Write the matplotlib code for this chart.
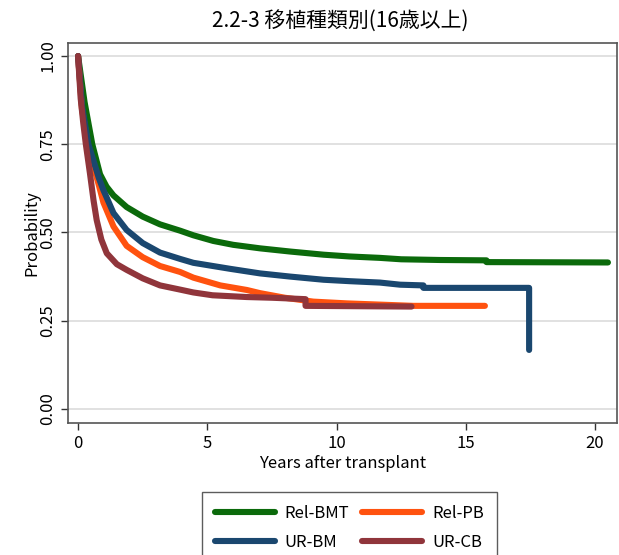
import matplotlib
matplotlib.use('Agg')
import matplotlib.pyplot as plt

plt.rcParams['font.family'] = ['Noto Sans CJK JP', 'DejaVu Sans']

# Kaplan-Meier curves (years, probability)
relbmt_t = [0, 0.25, 0.55, 0.85, 1.1, 1.37, 1.88, 2.5, 3.17, 3.95, 4.46, 5.23, 6.0, 7.04, 8.2,
            9.5, 10.5, 11.68, 12.5, 14.0, 15.8, 15.8, 20.5]
relbmt_p = [1.0, 0.87, 0.75, 0.665, 0.63, 0.605, 0.572, 0.545, 0.523, 0.505, 0.492, 0.476, 0.465,
            0.455, 0.446, 0.437, 0.432, 0.428, 0.424, 0.422, 0.421, 0.416, 0.415]

urbm_t = [0, 0.15, 0.4, 0.59, 0.8, 0.98, 1.37, 1.88, 2.5, 3.17, 3.95, 4.46, 5.88, 7.04, 8.2,
          9.5, 10.5, 11.68, 12.46, 13.36, 13.36, 17.45, 17.45]
urbm_p = [1.0, 0.86, 0.75, 0.705, 0.655, 0.62, 0.555, 0.507, 0.47, 0.443, 0.425, 0.414, 0.397,
          0.384, 0.375, 0.366, 0.362, 0.358, 0.352, 0.35, 0.343, 0.343, 0.167]

relpb_t = [0, 0.15, 0.4, 0.59, 0.8, 0.98, 1.37, 1.88, 2.5, 3.17, 3.95, 4.46, 5.5, 6.53, 7.04,
           8.0, 9.1, 10.4, 12.97, 15.74]
relpb_p = [1.0, 0.85, 0.74, 0.69, 0.635, 0.585, 0.517, 0.462, 0.43, 0.405, 0.388, 0.372, 0.35,
           0.337, 0.328, 0.315, 0.304, 0.299, 0.292, 0.292]

urcb_t = [0, 0.1, 0.2, 0.3, 0.46, 0.6, 0.72, 0.9, 1.11, 1.5, 1.88, 2.5, 3.17, 3.95, 4.46, 5.2,
          6.53, 7.5, 8.8, 8.8, 12.9]
urcb_p = [1.0, 0.88, 0.81, 0.75, 0.667, 0.59, 0.535, 0.48, 0.441, 0.41, 0.394, 0.37, 0.35, 0.338,
          0.33, 0.322, 0.317, 0.315, 0.311, 0.292, 0.29]

x_ticks = [0, 5, 10, 15, 20]
y_ticks = [0.0, 0.25, 0.5, 0.75, 1.0]

fig = plt.figure(figsize=(6.19, 5.55), dpi=100)
ax = fig.add_axes([68 / 619, 1 - 423 / 555, (617 - 68) / 619, (423 - 43) / 555])

for y in y_ticks:
    ax.axhline(y, color='#dcdcdc', linewidth=1.2, zorder=0)

lw = 4.4
l1, = ax.plot(relbmt_t, relbmt_p, color='#0b6a0b', linewidth=lw, solid_capstyle='round',
              solid_joinstyle='round', label='Rel-BMT', zorder=3)
l2, = ax.plot(relpb_t, relpb_p, color='#ff520f', linewidth=lw, solid_capstyle='round',
              solid_joinstyle='round', label='Rel-PB', zorder=3)
l3, = ax.plot(urbm_t, urbm_p, color='#1a476f', linewidth=lw, solid_capstyle='round',
              solid_joinstyle='round', label='UR-BM', zorder=4)
l4, = ax.plot(urcb_t, urcb_p, color='#90353b', linewidth=lw, solid_capstyle='round',
              solid_joinstyle='round', label='UR-CB', zorder=5)

ax.set_xlim(-0.39, 20.85)
ax.set_ylim(-0.040, 1.037)
ax.set_xticks(x_ticks)
ax.set_xticklabels([str(v) for v in x_ticks], fontsize=12)
ax.set_yticks(y_ticks)
ax.set_yticklabels([f'{v:.2f}' for v in y_ticks], fontsize=12, rotation=90, va='center')
ax.tick_params(direction='out', length=5, width=1, color='#333333')

for s in ax.spines.values():
    s.set_color('#555555')
    s.set_linewidth(1.2)

ax.set_xlabel('Years after transplant', fontsize=12, labelpad=2)
ax.set_ylabel('Probability', fontsize=12, labelpad=-1)
fig.text(340 / 619, 1 - 22 / 555, '2.2-3 移植種類別(16歳以上)', fontsize=15,
         ha='center', va='center')

# column-first fill: row 1 Rel-BMT / Rel-PB, row 2 UR-BM / UR-CB
leg = fig.legend(handles=[l1, l3, l2, l4], labels=['Rel-BMT', 'UR-BM', 'Rel-PB', 'UR-CB'],
                 ncol=2, loc='upper left', bbox_to_anchor=(202 / 619, 1 - 492 / 555),
                 borderaxespad=0, fontsize=12, frameon=True, fancybox=False,
                 edgecolor='#333333', handlelength=3.6, columnspacing=0.8,
                 handletextpad=0.6, borderpad=0.75, labelspacing=0.75)
leg.get_frame().set_linewidth(1.0)

fig.savefig('out.png', dpi=100)
